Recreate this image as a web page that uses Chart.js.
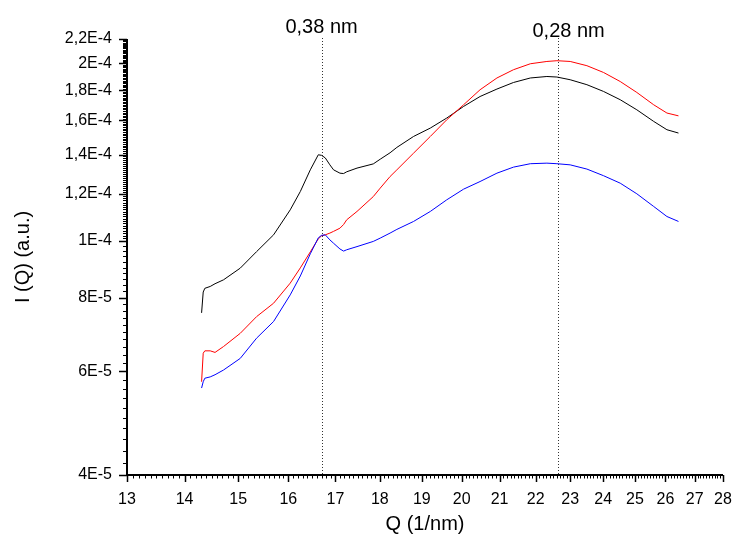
<!DOCTYPE html>
<html>
<head>
<meta charset="utf-8">
<script src="https://cdn.jsdelivr.net/npm/chart.js@4.4.0/dist/chart.umd.min.js"></script>
<style>
  body { margin: 0; background: #fff; }
  #wrap { width: 734px; height: 542px; }
</style>
</head>
<body>
<div id="wrap"><canvas id="chart" width="734" height="542"></canvas></div>
<script>
// Q values (1/nm), shared by all three curves
const q = [14.31, 14.34, 14.37, 14.47, 14.56, 14.72, 15.04, 15.36, 15.70, 16.04,
  16.25, 16.46, 16.63, 16.70, 16.78, 16.88, 16.96, 17.10, 17.18, 17.25,
  17.48, 17.85, 18.01, 18.24, 18.40, 18.80, 19.21, 19.62, 20.05, 20.48,
  20.93, 21.38, 21.85, 22.32, 22.61, 23.00, 23.50, 24.01, 24.53, 25.06,
  25.61, 26.05, 26.44];

// intensities, in units of 1E-5
const UNIT = 1e-5;
const blackI = [7.54, 8.18, 8.30, 8.36, 8.45, 8.58, 8.98, 9.58, 10.23, 11.28,
  12.12, 13.19, 13.99, 13.96, 13.82, 13.45, 13.19, 13.02, 13.00, 13.09,
  13.28, 13.50, 13.75, 14.10, 14.40, 15.03, 15.53, 16.15, 16.90, 17.57,
  18.09, 18.56, 18.89, 19.00, 18.96, 18.76, 18.40, 17.92, 17.35, 16.68,
  15.94, 15.43, 15.23];
const redI = [5.76, 6.44, 6.50, 6.50, 6.46, 6.61, 6.96, 7.43, 7.83, 8.47,
  8.99, 9.57, 10.07, 10.19, 10.23, 10.30, 10.37, 10.50, 10.65, 10.85,
  11.21, 11.88, 12.28, 12.85, 13.19, 14.08, 15.03, 16.04, 17.01, 18.04,
  18.89, 19.51, 19.97, 20.15, 20.21, 20.15, 19.82, 19.30, 18.63, 17.85,
  17.01, 16.47, 16.29];
const blueI = [5.62, 5.76, 5.84, 5.87, 5.92, 6.03, 6.31, 6.83, 7.29, 8.09,
  8.71, 9.50, 10.11, 10.21, 10.23, 10.03, 9.90, 9.68, 9.60, 9.65,
  9.77, 9.97, 10.10, 10.30, 10.45, 10.78, 11.21, 11.73, 12.23, 12.60,
  13.02, 13.33, 13.51, 13.54, 13.51, 13.45, 13.23, 12.89, 12.52, 12.01,
  11.43, 10.99, 10.78];

const xTickVals = [13, 14, 15, 16, 17, 18, 19, 20, 21, 22, 23, 24, 25, 26, 27, 28];
const yTickVals = [4e-5, 6e-5, 8e-5, 1e-4, 1.2e-4, 1.4e-4, 1.6e-4, 1.8e-4, 2e-4, 2.2e-4];
const yTickLabels = ['4E-5', '6E-5', '8E-5', '1E-4', '1,2E-4', '1,4E-4', '1,6E-4', '1,8E-4', '2E-4', '2,2E-4'];

const markerQ = [16.70, 22.63];
const markerLabels = ['0,38 nm', '0,28 nm'];

Chart.defaults.font.family = '"Liberation Sans", Arial, sans-serif';
Chart.defaults.color = '#000';

function series(vals) {
  return q.map((v, i) => ({ x: v, y: vals[i] * UNIT }));
}

// minor tick positions
const xMinor = [];
for (let i = 130; i <= 280; i++) if (i % 10) xMinor.push(i / 10);
const yMinor = [];
for (let i = 40; i < 100; i += 2) if (i % 20) yMinor.push(i * 1e-6);
for (let i = 100; i < 220; i++) if (i % 20) yMinor.push(i * 1e-6);

const axisDecor = {
  id: 'axisDecor',
  beforeDatasetsDraw(chart) {
    const { ctx, chartArea: a, scales: { x } } = chart;
    ctx.save();
    ctx.strokeStyle = '#333';
    ctx.lineWidth = 1;
    ctx.setLineDash([1, 2]);
    markerQ.forEach(v => {
      const px = Math.round(x.getPixelForValue(v)) + 0.5;
      ctx.beginPath();
      ctx.moveTo(px, a.top - 1);
      ctx.lineTo(px, a.bottom);
      ctx.stroke();
    });
    ctx.restore();
  },
  afterDraw(chart) {
    const { ctx, chartArea: a, scales: { x, y } } = chart;
    ctx.save();
    ctx.strokeStyle = '#000';

    // minor ticks
    ctx.lineWidth = 1;
    ctx.beginPath();
    xMinor.forEach(v => {
      const px = Math.round(x.getPixelForValue(v)) + 0.5;
      ctx.moveTo(px, a.bottom); ctx.lineTo(px, a.bottom + 3.5);
    });
    yMinor.forEach(v => {
      const py = Math.round(y.getPixelForValue(v)) + 0.5;
      ctx.moveTo(a.left, py); ctx.lineTo(a.left - 4, py);
    });
    ctx.stroke();

    // major ticks
    ctx.lineWidth = 1.5;
    ctx.beginPath();
    xTickVals.forEach(v => {
      const px = Math.round(x.getPixelForValue(v)) + 0.5;
      ctx.moveTo(px, a.bottom); ctx.lineTo(px, a.bottom + 7);
    });
    yTickVals.forEach(v => {
      const py = Math.round(y.getPixelForValue(v)) + 0.5;
      ctx.moveTo(a.left, py); ctx.lineTo(a.left - 8, py);
    });
    ctx.stroke();

    // axis lines
    ctx.lineWidth = 2;
    ctx.beginPath();
    ctx.moveTo(a.left, a.top);
    ctx.lineTo(a.left, a.bottom);
    ctx.lineTo(a.right, a.bottom);
    ctx.stroke();

    // peak labels
    ctx.fillStyle = '#000';
    ctx.font = '20px "Liberation Sans", Arial, sans-serif';
    ctx.textAlign = 'center';
    ctx.textBaseline = 'alphabetic';
    const shift = [[0, 33], [11, 37]];
    markerQ.forEach((v, i) => {
      const px = x.getPixelForValue(v) + shift[i][0];
      ctx.fillText(markerLabels[i], px, shift[i][1]);
    });
    ctx.restore();
  }
};

new Chart(document.getElementById('chart'), {
  type: 'scatter',
  data: {
    datasets: [
      { data: series(blueI), borderColor: '#0000ff' },
      { data: series(redI), borderColor: '#ff0000' },
      { data: series(blackI), borderColor: '#000000' }
    ].map(d => Object.assign(d, { showLine: true, borderWidth: 1, pointRadius: 0, tension: 0 }))
  },
  options: {
    responsive: false,
    animation: false,
    events: [],
    layout: { padding: { left: 0, right: 11, top: 39, bottom: 0 } },
    plugins: { legend: { display: false }, tooltip: { enabled: false } },
    scales: {
      x: {
        type: 'logarithmic',
        min: 13,
        max: 28,
        grid: { display: false, drawTicks: true, tickLength: 7 },
        border: { display: false },
        ticks: { autoSkip: false, maxRotation: 0, padding: 8, font: { size: 16 }, color: '#000',
          callback: v => String(v) },
        afterBuildTicks: s => { s.ticks = xTickVals.map(v => ({ value: v })); },
        afterFit: s => { s.height = 67; s.paddingLeft = 0; s.paddingRight = 0; },
        title: { display: true, text: 'Q (1/nm)', font: { size: 20 }, color: '#000',
          padding: { top: 0, bottom: 6 } }
      },
      y: {
        type: 'logarithmic',
        min: 4e-5,
        max: 2.2e-4,
        grid: { display: false, drawTicks: true, tickLength: 8 },
        border: { display: false },
        ticks: { autoSkip: false, padding: 7, font: { size: 16 }, color: '#000',
          callback: (v, i) => yTickLabels[i] },
        afterBuildTicks: s => { s.ticks = yTickVals.map(v => ({ value: v })); },
        afterFit: s => { s.width = 127; s.paddingTop = 0; s.paddingBottom = 0; },
        title: { display: true, text: 'I (Q) (a.u.)', font: { size: 20 }, color: '#000',
          padding: { top: 11, bottom: 0 } }
      }
    }
  },
  plugins: [axisDecor]
});
</script>
</body>
</html>
